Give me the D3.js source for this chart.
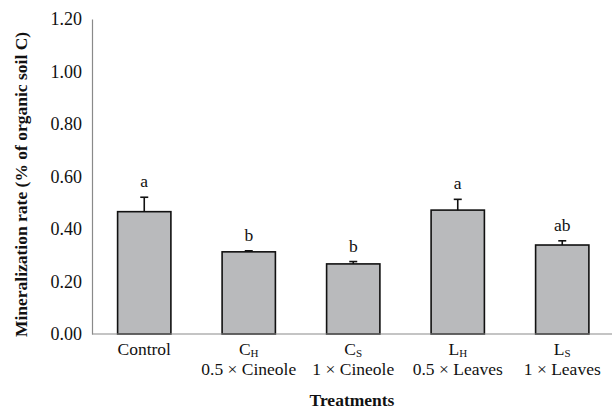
<!DOCTYPE html>
<html>
<head>
<meta charset="utf-8">
<script src="https://cdn.jsdelivr.net/npm/d3@7"></script>
<style>
  html, body { margin: 0; padding: 0; background: #fff; }
  svg { display: block; }
  svg text { font-family: 'Liberation Serif', 'Times New Roman', Times, serif; }
</style>
</head>
<body>
<svg id="chart" width="612" height="409"></svg>
<script>
// Treatments: main label, subscript, dose line
const categories = ["Control", "CH", "CS", "LH", "LS"];
const labelMain = ["Control", "C", "C", "L", "L"];
const labelSub = ["", "H", "S", "H", "S"];
const labelDose = ["", "0.5 \u00d7 Cineole", "1 \u00d7 Cineole", "0.5 \u00d7 Leaves", "1 \u00d7 Leaves"];

// Mineralization rate (% of organic soil C), mean and standard error
const means = [0.466, 0.313, 0.267, 0.472, 0.339];
const errors = [0.055, 0.004, 0.009, 0.041, 0.016];
const letters = ["a", "b", "b", "a", "ab"];

const yTicks = [0, 0.2, 0.4, 0.6, 0.8, 1.0, 1.2];

const svg = d3.select("#chart");
const plotLeft = 92, plotRight = 614.5, plotTop = 19, plotBottom = 334;

const x = d3.scaleBand().domain(categories).range([plotLeft, plotRight])
  .paddingInner(0.49).paddingOuter(0.245);
const y = d3.scaleLinear().domain([0, 1.2]).range([plotBottom, plotTop]);

const axisColor = "#8a8a8a";

// y axis
const yAxis = svg.append("g").attr("transform", `translate(${plotLeft},0)`)
  .call(d3.axisLeft(y).tickValues(yTicks).tickFormat(d3.format(".2f")).tickSize(0).tickPadding(10));
yAxis.attr("font-family", null);
yAxis.select(".domain").attr("stroke", axisColor).attr("stroke-width", 1.2);
yAxis.selectAll("text")
  .attr("font-size", 18).attr("fill", "#111");

// bars
svg.append("g").selectAll("rect").data(categories).join("rect")
  .attr("x", d => x(d))
  .attr("y", (d, i) => y(means[i]))
  .attr("width", x.bandwidth())
  .attr("height", (d, i) => y(0) - y(means[i]))
  .attr("fill", "#b9babc")
  .attr("stroke", "#111")
  .attr("stroke-width", 1.6);

// x axis line
svg.append("line")
  .attr("x1", plotLeft).attr("x2", 612).attr("y1", y(0)).attr("y2", y(0))
  .attr("stroke", axisColor).attr("stroke-width", 1.2);

// error bars
const eb = svg.append("g").attr("stroke", "#111").attr("stroke-width", 1.6);
categories.forEach((c, i) => {
  const cx = x(c) + x.bandwidth() / 2;
  const yTop = y(means[i] + errors[i]);
  eb.append("line").attr("x1", cx).attr("x2", cx).attr("y1", y(means[i])).attr("y2", yTop);
  eb.append("line").attr("x1", cx - 4).attr("x2", cx + 4).attr("y1", yTop).attr("y2", yTop);
});

// significance letters
svg.append("g").selectAll("text").data(categories).join("text")
  .attr("x", d => x(d) + x.bandwidth() / 2)
  .attr("y", (d, i) => y(means[i] + errors[i]) - 10)
  .attr("text-anchor", "middle")
  .attr("font-size", 17.5).attr("fill", "#111")
  .text((d, i) => letters[i]);

// category labels
const lab = svg.append("g").attr("font-size", 17.5).attr("fill", "#111").attr("text-anchor", "middle");
categories.forEach((c, i) => {
  const cx = x(c) + x.bandwidth() / 2;
  const t = lab.append("text").attr("x", cx).attr("y", 355);
  t.append("tspan").text(labelMain[i]);
  if (labelSub[i]) {
    t.append("tspan").attr("font-size", 11).attr("dy", 2).text(labelSub[i]);
  }
  if (labelDose[i]) {
    lab.append("text").attr("x", cx).attr("y", 375).text(labelDose[i]);
  }
});

// axis titles
svg.append("text")
  .attr("x", (plotLeft + 612) / 2).attr("y", 406)
  .attr("text-anchor", "middle").attr("font-weight", "bold")
  .attr("font-size", 17.5).attr("fill", "#111")
  .text("Treatments");

svg.append("text")
  .attr("transform", `translate(27,${(plotTop + plotBottom) / 2 + 8}) rotate(-90)`)
  .attr("text-anchor", "middle").attr("font-weight", "bold")
  .attr("font-size", 17.5).attr("fill", "#111")
  .text("Mineralization rate (% of organic soil C)");
</script>
</body>
</html>
